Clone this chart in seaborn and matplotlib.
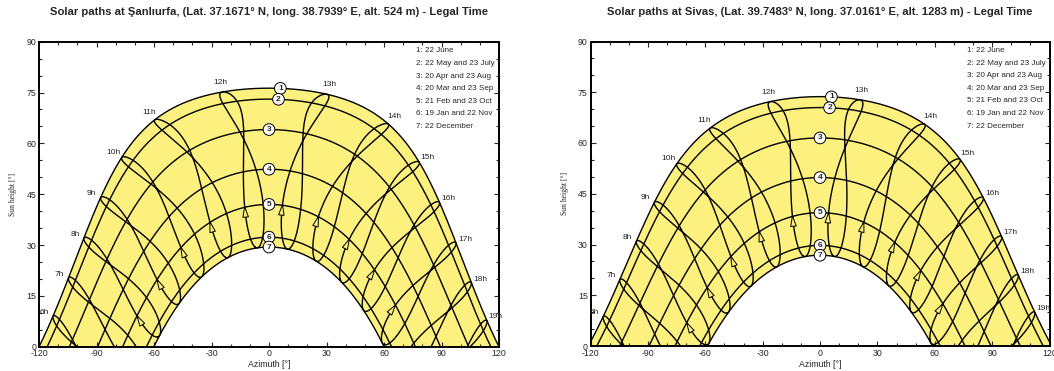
import numpy as np
import pandas as pd
import matplotlib
matplotlib.use("Agg")
import matplotlib.pyplot as plt
from matplotlib.ticker import MultipleLocator
import seaborn as sns

# sites, as given in the chart titles
site_names = ["Şanlıurfa", "Sivas"]
site_lat = [37.1671, 39.7483]
site_lon = [38.7939, 37.0161]
site_alt = [524, 1283]
legal_utc = 3  # Turkish legal time (UTC+3)

# date curves: label text and day of year of the first date
date_labels = ["22 June", "22 May and 23 July", "20 Apr and 23 Aug", "20 Mar and 23 Sep",
               "21 Feb and 23 Oct", "19 Jan and 22 Nov", "22 December"]
date_doy = [173, 142, 110, 79, 52, 19, 356]
circle_az = [6, 5, 0, 0, 0, 0, 0]

# hour lines (legal time) and the day where the direction arrows sit
hours = list(range(6, 20))
june_doy = 173
arrow_doy = 51

YELLOW = "#fcf07e"


def declination(n):
    b = 2 * np.pi * (np.asarray(n, float) - 1) / 365
    return np.degrees(0.006918 - 0.399912 * np.cos(b) + 0.070257 * np.sin(b)
                      - 0.006758 * np.cos(2 * b) + 0.000907 * np.sin(2 * b)
                      - 0.002697 * np.cos(3 * b) + 0.00148 * np.sin(3 * b))


def eq_of_time(n):
    b = 2 * np.pi * (np.asarray(n, float) - 1) / 365
    return 229.18 * (0.000075 + 0.001868 * np.cos(b) - 0.032077 * np.sin(b)
                     - 0.014615 * np.cos(2 * b) - 0.040849 * np.sin(2 * b))


def sun_pos(lat, dec, ha):
    la, de, h = np.radians(lat), np.radians(dec), np.radians(ha)
    el = np.arcsin(np.sin(la) * np.sin(de) + np.cos(la) * np.cos(de) * np.cos(h))
    az = np.arctan2(np.sin(h), np.cos(h) * np.sin(la) - np.tan(de) * np.cos(la))
    return np.degrees(az), np.degrees(el)


def hour_angle(hour, lon, n):
    return 15 * (hour - legal_utc + lon / 15 + eq_of_time(n) / 60 - 12)


def day_path(lat, dec, npts=400):
    c = np.clip(-np.tan(np.radians(lat)) * np.tan(np.radians(dec)), -1, 1)
    ha0 = np.degrees(np.arccos(c))
    ha = np.linspace(-ha0, ha0, npts)
    return sun_pos(lat, dec, ha)


fig = plt.figure(figsize=(10.54, 3.71), dpi=100)
sns.set_style("ticks")
plt.rcParams["font.family"] = ["Liberation Sans", "DejaVu Sans"]
plt.rcParams["axes.unicode_minus"] = False

boxes = [[39 / 1054, 24.3 / 371, 460 / 1054, 305 / 371],
         [590.5 / 1054, 25 / 371, 459 / 1054, 304.5 / 371]]

for k in range(2):
    lat, lon = site_lat[k], site_lon[k]
    ax = fig.add_axes(boxes[k])
    ax.set_xlim(-120, 120)
    ax.set_ylim(0, 90)
    sx = boxes[k][2] * 1054 / 240
    sy = boxes[k][3] * 371 / 90

    # yellow band between June and December paths
    jaz, jel = day_path(lat, declination(date_doy[0]))
    daz, del_ = day_path(lat, declination(date_doy[-1]))
    ax.fill(np.r_[jaz, daz[::-1]], np.r_[jel, del_[::-1]], color=YELLOW, lw=0, zorder=0)

    # date curves
    rows = []
    for i, n in enumerate(date_doy):
        az, el = day_path(lat, declination(n))
        rows.append(pd.DataFrame({"az": az, "el": el, "curve": i}))
    dates_df = pd.concat(rows, ignore_index=True)
    sns.lineplot(data=dates_df, x="az", y="el", units="curve", estimator=None,
                 sort=False, color="black", lw=1.0, ax=ax, zorder=2)

    # hour lines over the year
    days = np.arange(1, 366.01, 0.25)
    dec_year = declination(days)
    rows = []
    for h in hours:
        az, el = sun_pos(lat, dec_year, hour_angle(h, lon, days))
        up = el >= 0
        seg = np.cumsum(np.r_[0, np.diff(up.astype(int)) != 0])
        rows.append(pd.DataFrame({"az": az[up], "el": el[up], "seg": seg[up] + 100 * h}))
    hours_df = pd.concat(rows, ignore_index=True)
    sns.lineplot(data=hours_df, x="az", y="el", units="seg", estimator=None,
                 sort=False, color="black", lw=1.0, ax=ax, zorder=2)

    # direction arrows
    for h in hours:
        a0, e0 = sun_pos(lat, declination(arrow_doy - 3), hour_angle(h, lon, arrow_doy - 3))
        a1, e1 = sun_pos(lat, declination(arrow_doy + 3), hour_angle(h, lon, arrow_doy + 3))
        if e0 > 1 and -118 < a1 < 118:
            ax.annotate("", xy=(a1, e1), xytext=(a0, e0),
                        arrowprops=dict(arrowstyle="-|>,head_length=0.75,head_width=0.2",
                                        lw=0.7, color="black", fc=YELLOW,
                                        shrinkA=0, shrinkB=0), zorder=3)

    # hour labels, just outside the June path
    dj = declination(june_doy)
    for h in hours:
        ha = hour_angle(h, lon, june_doy)
        az, el = sun_pos(lat, dj, ha)
        if el < 0 or abs(az) > 121:
            continue
        a0, e0 = sun_pos(lat, dj, ha - 0.5)
        a1, e1 = sun_pos(lat, dj, ha + 0.5)
        tx, ty = (a1 - a0) * sx, (e1 - e0) * sy
        nrm = np.hypot(tx, ty)
        ox, oy = -ty / nrm * 7, tx / nrm * 7
        ax.annotate(f"{h}h", xy=(az, el), xytext=(ox, oy), textcoords="offset points",
                    ha="center", va="center", fontsize=6, zorder=4, annotation_clip=False)

    # numbered circles on the date curves
    for i, n in enumerate(date_doy):
        az, el = day_path(lat, declination(n), 4001)
        j = np.argmin(np.abs(az - circle_az[i]))
        ax.text(az[j], el[j], str(i + 1), ha="center", va="center", fontsize=6,
                fontweight="bold", zorder=5,
                bbox=dict(boxstyle="circle,pad=0.28", fc="white", ec="black", lw=0.7))

    # date legend
    for i, lab in enumerate(date_labels):
        ax.text(0.82, 0.97 - i * 0.0413, f"{i + 1}: {lab}", transform=ax.transAxes,
                ha="left", va="center", fontsize=5.8, zorder=5)

    ax.xaxis.set_major_locator(MultipleLocator(30))
    ax.xaxis.set_minor_locator(MultipleLocator(10))
    ax.yaxis.set_major_locator(MultipleLocator(15))
    ax.yaxis.set_minor_locator(MultipleLocator(5))
    ax.tick_params(which="both", direction="in", top=True, right=True,
                   labelsize=6.3, width=0.8, pad=2)
    ax.tick_params(which="major", length=3.5)
    ax.tick_params(which="minor", length=2)
    for sp in ax.spines.values():
        sp.set_linewidth(1.4)
        sp.set_color("black")

    ax.set_xlabel("Azimuth [°]", fontsize=6.3)
    ax.xaxis.set_label_coords(0.5, -0.045)
    ax.set_ylabel("")
    fig.text(boxes[k][0] - 26 / 1054, boxes[k][1] + boxes[k][3] / 2, "Sun height [°]",
             rotation=90, ha="center", va="center", fontsize=5.5,
             family=["Liberation Serif", "DejaVu Serif"])

    title = (f"Solar paths at {site_names[k]}, (Lat. {lat:.4f}° N, long. {lon:.4f}° E, "
             f"alt. {site_alt[k]} m) - Legal Time")
    fig.text(boxes[k][0] + boxes[k][2] / 2, 1 - 12 / 371, title, ha="center", va="center",
             fontsize=8.1, fontweight="bold")

fig.savefig("out.png", dpi=100)
